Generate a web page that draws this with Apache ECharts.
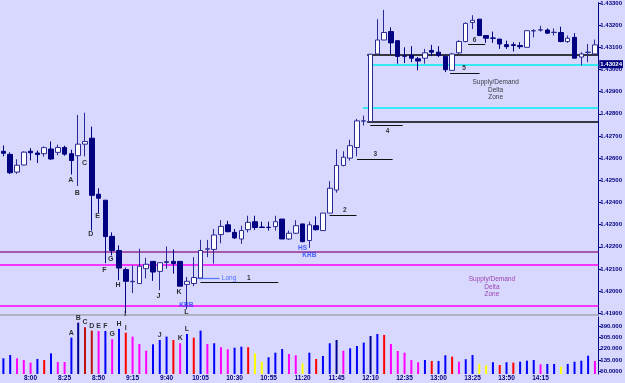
<!DOCTYPE html>
<html><head><meta charset="utf-8">
<script src="https://cdn.jsdelivr.net/npm/echarts@6/dist/echarts.min.js"></script>
<style>html,body{margin:0;padding:0;background:#D8D8FE;overflow:hidden}#c{width:625px;height:383px}</style>
</head><body><div id="c"></div>
<script>
// ---------------- data ----------------
const times = ['7:40','7:45','7:50','7:55',
 '8:00','8:05','8:10','8:15','8:20','8:25','8:30','8:35','8:40','8:45','8:50','8:55',
 '9:00','9:05','9:10','9:15','9:20','9:25','9:30','9:35','9:40','9:45','9:50','9:55',
 '10:00','10:05','10:10','10:15','10:20','10:25','10:30','10:35','10:40','10:45','10:50','10:55',
 '11:00','11:05','11:10','11:15','11:20','11:25','11:30','11:35','11:40','11:45','11:50','11:55',
 '12:00','12:05','12:10','12:15','12:20','12:25','12:30','12:35','12:40','12:45','12:50','12:55',
 '13:00','13:05','13:10','13:15','13:20','13:25','13:30','13:35','13:40','13:45','13:50','13:55',
 '14:00','14:05','14:10','14:15','14:20','14:25','14:30','14:35','14:40','14:45','14:50','14:55'];

// [open, close, low, high]
const ohlc = [
 [1.42631,1.42622,1.42608,1.42657],[1.42617,1.42534,1.42528,1.42626],[1.42537,1.42568,1.42529,1.42595],
 [1.42569,1.42627,1.42568,1.42631],[1.42631,1.42624,1.42590,1.42645],[1.42623,1.42616,1.42578,1.42634],
 [1.42620,1.42647,1.42607,1.42653],[1.42641,1.42596,1.42593,1.42675],[1.42626,1.42648,1.42613,1.42661],
 [1.42648,1.42618,1.42611,1.42656],[1.42620,1.42589,1.42526,1.42638],[1.42611,1.42663,1.42474,1.42795],
 [1.42663,1.42675,1.42608,1.42805],[1.42690,1.42432,1.42273,1.42742],[1.42437,1.42419,1.42353,1.42464],
 [1.42410,1.42246,1.42126,1.42410],[1.42247,1.42183,1.42161,1.42265],[1.42183,1.42104,1.42049,1.42206],
 [1.42097,1.42044,1.41901,1.42106],[1.42042,1.42044,1.41991,1.42116],[1.42034,1.42112,1.42034,1.42191],
 [1.42101,1.42121,1.42057,1.42150],[1.42134,1.42086,1.42046,1.42134],[1.42089,1.42128,1.42004,1.42128],
 [1.42129,1.42133,1.42101,1.42201],[1.42134,1.42124,1.42079,1.42188],[1.42134,1.42022,1.42022,1.42134],
 [1.42030,1.42044,1.41918,1.42064],[1.42034,1.42061,1.42022,1.42153],[1.42059,1.42183,1.42059,1.42231],
 [1.42189,1.42191,1.42153,1.42231],[1.42188,1.42253,1.42124,1.42280],[1.42255,1.42292,1.42216,1.42320],
 [1.42299,1.42268,1.42265,1.42317],[1.42265,1.42240,1.42235,1.42280],[1.42235,1.42273,1.42213,1.42295],
 [1.42277,1.42310,1.42265,1.42340],[1.42313,1.42287,1.42276,1.42340],[1.42289,1.42287,1.42286,1.42313],
 [1.42288,1.42287,1.42273,1.42313],[1.42291,1.42313,1.42273,1.42340],[1.42325,1.42235,1.42235,1.42325],
 [1.42235,1.42261,1.42231,1.42273],[1.42261,1.42295,1.42258,1.42320],[1.42303,1.42223,1.42220,1.42303],
 [1.42228,1.42299,1.42195,1.42313],[1.42295,1.42277,1.42273,1.42337],[1.42273,1.42352,1.42273,1.42352],
 [1.42352,1.42464,1.42352,1.42496],[1.42456,1.42567,1.42444,1.42640],[1.42567,1.42604,1.42563,1.42631],
 [1.42600,1.42656,1.42589,1.42683],[1.42648,1.42768,1.42608,1.42777],[1.42767,1.42768,1.42747,1.42792],
 [1.42765,1.43069,1.42765,1.43069],[1.43070,1.43133,1.43070,1.43227],[1.43133,1.43167,1.43133,1.43269],
 [1.43171,1.43120,1.43070,1.43190],[1.43130,1.43059,1.43026,1.43130],[1.43061,1.43060,1.43029,1.43100],
 [1.43063,1.43051,1.43033,1.43105],[1.43048,1.43038,1.42996,1.43056],[1.43051,1.43075,1.43026,1.43093],
 [1.43086,1.43078,1.43060,1.43111],[1.43078,1.43063,1.43056,1.43105],[1.43060,1.42999,1.42988,1.43060],
 [1.42996,1.43070,1.42996,1.43075],[1.43075,1.43126,1.43070,1.43132],[1.43126,1.43208,1.43123,1.43212],
 [1.43212,1.43222,1.43182,1.43245],[1.43227,1.43153,1.43153,1.43227],[1.43153,1.43141,1.43120,1.43155],
 [1.43142,1.43141,1.43120,1.43171],[1.43137,1.43115,1.43093,1.43137],[1.43112,1.43103,1.43093,1.43130],
 [1.43112,1.43108,1.43081,1.43123],[1.43108,1.43103,1.43093,1.43123],[1.43100,1.43175,1.43100,1.43175],
 [1.43174,1.43175,1.43145,1.43182],[1.43178,1.43179,1.43171,1.43197],[1.43178,1.43164,1.43160,1.43185],
 [1.43167,1.43168,1.43153,1.43185],[1.43167,1.43126,1.43123,1.43193],[1.43126,1.43141,1.43120,1.43153],
 [1.43145,1.43051,1.43051,1.43164],[1.43056,1.43070,1.43018,1.43078],[1.43077,1.43078,1.43033,1.43115],
 [1.43070,1.43111,1.43070,1.43135]];

const volumes = [147,172,147,134,114,142,134,185,119,119,
 305,420,385,359,356,356,293,372,343,313,
 257,205,254,287,313,287,262,333,305,359,
 257,262,232,216,228,236,232,185,121,155,
 190,218,180,170,109,190,142,165,262,287,
 205,224,241,267,318,333,326,257,203,190,
 134,117,134,127,127,170,160,121,140,172,
 104,94,117,96,117,114,121,129,134,101,
 104,104,83,104,121,129,167,127];

// volume class per bar: n=normal, c=churn, u=climax up, h=climax high, s=strong, l=low
const volClass = ['n','n','c','c','c','n','u','n','c','c',
 'n','s','h','h','c','n','c','n','u','c',
 'c','c','n','n','n','u','c','n','u','n',
 'c','n','c','c','n','n','u','l','l','n',
 'n','n','c','c','l','n','u','n','n','s',
 'c','n','n','n','s','n','u','c','c','c',
 'c','c','n','u','n','n','u','c','n','n',
 'l','l','n','u','n','u','n','n','n','c',
 'n','n','l','n','n','n','n','c'];

const priceTicks = [1.419,1.420,1.421,1.422,1.423,1.424,1.425,1.426,1.427,1.428,1.429,1.430,1.431,1.432,1.433];
const volTicks = [50,135,220,305,390];
const volTickText = ['50.0000','135.000','220.000','305.000','390.000'];
const timeTickLabels = ['8:00','8:25','8:50','9:15','9:40','10:05','10:30','10:55','11:20','11:45','12:10','12:35','13:00','13:25','13:50','14:15'];
const currentPrice = 1.43024;

// horizontal levels across the whole chart
const levelMauve = 1.42176;
const levelsMagenta = [1.42119, 1.41933];

// supply/demand zone lines: [fromIndex, toIndex, price]
const zoneBlack = [[53.5,87.5,1.43068],[53.5,87.5,1.42765]];
const zoneCyan = [[54.25,87.5,1.43023],[52.9,87.5,1.42827]];
// leg lines and their numbers
const legLines = [[28.98,40.43,1.42039],[47.97,51.93,1.42344],[52.0,57.25,1.42596],[53.96,58.74,1.42750],[65.7,70.04,1.42984],[68.35,70.87,1.43115]];
const legLabels = [['1',36.1,1.42058],['2',50.2,1.42367],['3',54.7,1.42616],['4',56.5,1.42723],['5',67.77,1.43006],['6',69.3,1.43133]];
const swingLabels = [['A',9.9,1.42499],['B',10.87,1.42441],['C',11.93,1.42577],['D',12.84,1.42258],['E',13.86,1.42337],
 ['F',14.87,1.42097],['G',15.8,1.42146],['H',16.86,1.42028],['I',17.9,1.41895],['J',22.8,1.41979],['K',25.84,1.41997],['L',26.9,1.41904]];
const blueLabels = [['KRB',26.9,1.41937],['HS',44.0,1.42195],['KRB',45.0,1.42164]];
const longLine = [28.3,31.8,1.42059];
const longLabel = ['Long',32.05,1.42059];
const zoneTextUpper = ['Supply/Demand\nDelta\nZone',72.4,1.42907];
const zoneTextLower = ['Supply/Demand\nDelta\nZone',71.85,1.42019];
const volLetters = [[10,'A'],[11,'B'],[12,'C'],[13,'D'],[14,'E'],[15,'F'],[16,'G'],[17,'H'],[18,'I'],[23,'J'],[26,'K'],[27,'L']];

// ---------------- chart ----------------
const NAVY = '#000080';
const FONT = 'Liberation Sans';
const volColors = {n:'#0000FF', c:'#FF00FF', u:'#FF0000', h:'#C01010', s:'#000090', l:'#FFFF00'};
const GL = -1.75, GR = 19.5;
const XMIN = -0.5, XMAX = 87.5;

function txt(list, style){
  return list.map(([t,x,y]) => ({value:[x,y], name:t,
    label:Object.assign({show:true, formatter:p=>p.name, fontFamily:FONT}, style)}));
}
function segs(list, style){
  return list.map(([a,b,y]) => [{coord:[a,y], lineStyle:style},{coord:[b,y]}]);
}

const chart = echarts.init(document.getElementById('c'), null, {width:625, height:383});
chart.setOption({
  animation:false,
  backgroundColor:'#D8D8FE',
  grid:[
    {left:GL, right:GR, top:0, height:315},
    {left:GL, right:GR, top:317, height:57}
  ],
  xAxis:[
    {type:'category', gridIndex:0, data:times, boundaryGap:true,
     axisLine:{show:true, onZero:false, lineStyle:{color:'#A4A4B0', width:1.5}}, axisTick:{show:false}, axisLabel:{show:false}, splitLine:{show:false}},
    {type:'value', gridIndex:0, min:XMIN, max:XMAX, show:false, axisLine:{onZero:false}},
    {type:'category', gridIndex:1, data:times, boundaryGap:true,
     axisLine:{show:false, onZero:false}, axisTick:{show:false}, splitLine:{show:false},
     axisLabel:{show:true, interval:(i,v)=>timeTickLabels.includes(v), color:NAVY, fontSize:6.5, fontFamily:FONT, fontWeight:'bold', margin:1}}
  ],
  yAxis:[
    {type:'value', gridIndex:0, position:'right', min:1.41892, max:1.43302, scale:true,
     axisLine:{show:true, onZero:false, lineStyle:{color:NAVY, width:1}},
     axisTick:{show:true, length:3, customValues:priceTicks, lineStyle:{color:NAVY}},
     axisLabel:{show:true, customValues:priceTicks, formatter:v=>v.toFixed(5), color:NAVY, fontSize:6, fontFamily:FONT, fontWeight:'bold', margin:2},
     splitLine:{show:false}},
    {type:'value', gridIndex:1, position:'right', min:27, max:463,
     axisLine:{show:true, onZero:false, lineStyle:{color:NAVY, width:1}},
     axisTick:{show:true, length:3, customValues:volTicks, lineStyle:{color:NAVY}},
     axisLabel:{show:true, customValues:volTicks, formatter:v=>volTickText[volTicks.indexOf(v)] || '', color:NAVY, fontSize:6, fontFamily:FONT, fontWeight:'bold', margin:2},
     splitLine:{show:false}}
  ],
  series:[
    {type:'candlestick', xAxisIndex:0, yAxisIndex:0, data:ohlc, barWidth:5,
     itemStyle:{color:'#FFFFFF', color0:NAVY, borderColor:'#2A2A96', borderColor0:NAVY, borderWidth:1}},
    {type:'scatter', xAxisIndex:1, yAxisIndex:0, symbolSize:1, itemStyle:{color:'rgba(0,0,0,0)'}, silent:true, z:3,
     data:[
       ...txt(swingLabels, {color:'#000000', fontSize:7, fontWeight:'bold', position:'inside'}),
       ...txt(legLabels, {color:'#000000', fontSize:6.5, fontWeight:'bold', position:'inside'}),
       ...txt(blueLabels, {color:'#2040FF', fontSize:6.5, fontWeight:'bold', position:'inside'}),
       ...txt([longLabel], {color:'#2850FF', fontSize:6.5, position:'right', distance:0}),
       ...txt([zoneTextUpper], {color:'#101010', fontSize:6.5, lineHeight:7.4, align:'center', position:'inside'}),
       ...txt([zoneTextLower], {color:'#8A1A9A', fontSize:6.5, lineHeight:7.4, align:'center', position:'inside'})
     ],
     markLine:{silent:true, symbol:['none','none'], animation:false, label:{show:false}, z:1,
       data:[
         ...segs([[XMIN,XMAX,levelMauve]], {color:'#A858AC', width:2, type:'solid'}),
         ...segs(levelsMagenta.map(v=>[XMIN,XMAX,v]), {color:'#FF00FF', width:1.5, type:'solid'}),
         ...segs(zoneBlack, {color:'#000000', width:1.5, type:'solid'}),
         ...segs(zoneCyan, {color:'#00F0F0', width:1.5, type:'solid'}),
         ...segs(legLines, {color:'#101010', width:1, type:'solid'}),
         ...segs([longLine], {color:'#5577FF', width:1.2, type:'solid'}),
         [{coord:[XMIN,currentPrice], lineStyle:{color:'rgba(0,0,0,0)', width:1},
           label:{show:true, position:'end', distance:1, formatter:currentPrice.toFixed(5),
             backgroundColor:NAVY, color:'#FFFFFF', fontSize:6, fontFamily:FONT, fontWeight:'bold', padding:[1,1,1,1]}},
          {coord:[XMAX,currentPrice]}]
       ]}
    },
    {type:'bar', xAxisIndex:2, yAxisIndex:1, barWidth:2, clip:true,
     data:volumes.map((v,i)=>({value:v, itemStyle:{color:volColors[volClass[i]]}}))},
    {type:'scatter', xAxisIndex:2, yAxisIndex:1, symbolSize:1, itemStyle:{color:'rgba(0,0,0,0)'}, silent:true,
     data:volLetters.map(([i,t])=>({value:[i, volumes[i]], name:t,
       label:{show:true, formatter:p=>p.name, position:'top', distance:1, color:'#000000', fontSize:7, fontWeight:'bold', fontFamily:FONT}}))}
  ]
});
</script>
</body></html>
